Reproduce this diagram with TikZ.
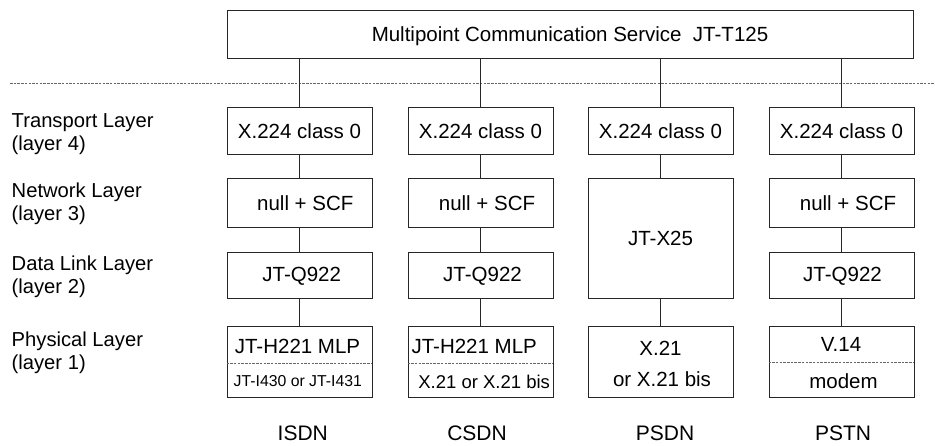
\documentclass[tikz,border=0pt]{standalone}
\usepackage{fontspec}
\setmainfont{Liberation Sans}
\begin{document}
\begin{tikzpicture}[x=1bp,y=-1bp,
  box/.style={draw=black!85, line width=0.9bp, inner sep=0pt, minimum width=145bp},
  conn/.style={draw=black!85, line width=0.9bp},
  sep/.style={draw=black!60, line width=0.6bp, dash pattern=on 2.5bp off 1.2bp},
  txt/.style={inner sep=0pt, font=\fontsize{20.5bp}{24bp}\selectfont, text height=14.7bp, text depth=0pt},
  txtm/.style={inner sep=0pt, font=\fontsize{18.5bp}{22bp}\selectfont, text height=13.3bp, text depth=0pt},
  txts/.style={inner sep=0pt, font=\fontsize{15.8bp}{19bp}\selectfont, text height=11.3bp, text depth=0pt},
  lay/.style={inner sep=0pt, anchor=base west, font=\fontsize{20.2bp}{24bp}\selectfont},
  net/.style={inner sep=0pt, anchor=base, font=\fontsize{21bp}{24bp}\selectfont}]
\useasboundingbox (0,0) rectangle (935,446);
\fill[white] (0,0) rectangle (935,446);

% top box
\node[box, minimum width=686bp, minimum height=48bp] (top) at (570,34) {};
\node[txt] (toptxt) at (570,34) {Multipoint Communication Service\ \ JT-T125};

% separator line
\coordinate (sepL) at (10,83);
\coordinate (sepR) at (935,83);
\draw[sep] (sepL) -- (sepR);

% ISDN column
\node[box, minimum height=47bp] (i4) at (299.5,130.5) {};
\node[box, minimum height=49bp] (i3) at (299.5,202.5) {};
\node[box, minimum height=46bp] (i2) at (299.5,275) {};
\node[box, minimum height=71bp] (i1) at (299.5,361.5) {};
% CSDN column
\node[box, minimum height=47bp] (c4) at (480.5,130.5) {};
\node[box, minimum height=49bp] (c3) at (480.5,202.5) {};
\node[box, minimum height=46bp] (c2) at (480.5,275) {};
\node[box, minimum height=71bp] (c1) at (480.5,361.5) {};
% PSDN column
\node[box, minimum height=47bp] (p4) at (660.5,130.5) {};
\node[box, minimum height=120bp] (p3) at (660.5,238) {};
\node[box, minimum height=71bp] (p1) at (660.5,361.5) {};
% PSTN column
\node[box, minimum height=47bp] (t4) at (841.5,130.5) {};
\node[box, minimum height=49bp] (t3) at (841.5,202.5) {};
\node[box, minimum height=46bp] (t2) at (841.5,275) {};
\node[box, minimum height=71bp] (t1) at (841.5,361.5) {};

% connectors
\foreach \c in {i,c,p,t}{
  \draw[conn] (\c4.north |- top.south) -- (\c4.north);
}
\draw[conn] (i4.south) -- (i3.north);
\draw[conn] (i3.south) -- (i2.north);
\draw[conn] (i2.south) -- (i1.north);
\draw[conn] (c4.south) -- (c3.north);
\draw[conn] (c3.south) -- (c2.north);
\draw[conn] (c2.south) -- (c1.north);
\draw[conn] (p4.south) -- (p3.north);
\draw[conn] (p3.south) -- (p1.north);
\draw[conn] (t4.south) -- (t3.north);
\draw[conn] (t3.south) -- (t2.north);
\draw[conn] (t2.south) -- (t1.north);

% dividers in physical boxes
\draw[sep] (i1.west |- 0,363) -- (i1.east |- 0,363);
\draw[sep] (c1.west |- 0,363) -- (c1.east |- 0,363);
\draw[sep] (t1.west |- 0,362) -- (t1.east |- 0,362);

% box texts
\node[txt] (i4t) at (299.5,131) {X.224 class 0};
\node[txt] (c4t) at (480.5,131) {X.224 class 0};
\node[txt] (p4t) at (660.5,131) {X.224 class 0};
\node[txt] (t4t) at (841.5,131) {X.224 class 0};

\node[txt] (i3t) at (305.3,203) {null + SCF};
\node[txt] (c3t) at (487,203) {null + SCF};
\node[txt] (t3t) at (848,203) {null + SCF};
\node[txt] (p3t) at (660.5,238) {JT-X25};

\node[txt] (i2t) at (301.7,274.5) {JT-Q922};
\node[txt] (c2t) at (482.5,274.5) {JT-Q922};
\node[txt] (t2t) at (842.5,274.5) {JT-Q922};

\node[txt] (i1a) at (297.5,346) {JT-H221 MLP};
\node[txts] (i1b) at (297.8,381) {JT-I430 or JT-I431};
\node[txt] (c1a) at (474.2,346) {JT-H221 MLP};
\node[txtm] (c1b) at (484.2,381.5) {X.21 or X.21 bis};
\node[txt] (p1a) at (660.5,348) {X.21};
\node[txt] (p1b) at (662,379) {or X.21 bis};
\node[txt] (t1a) at (841,344) {V.14};
\node[txt] (t1b) at (843.5,381) {modem};

% layer labels
\node[lay] (l4a) at (11.5,127.7) {Transport Layer};
\node[lay] (l4b) at (11.5,150.2) {(layer 4)};
\node[lay] (l3a) at (11.5,198) {Network Layer};
\node[lay] (l3b) at (11.5,220.5) {(layer 3)};
\node[lay] (l2a) at (11.5,270.7) {Data Link Layer};
\node[lay] (l2b) at (11.5,293.2) {(layer 2)};
\node[lay] (l1a) at (11.5,346.7) {Physical Layer};
\node[lay] (l1b) at (11.5,369.2) {(layer 1)};

% network names
\node[net] (nI) at (302.8,440) {ISDN};
\node[net] (nC) at (477,440) {CSDN};
\node[net] (nP) at (665,440) {PSDN};
\node[net] (nT) at (843,440) {PSTN};
\end{tikzpicture}
\end{document}
